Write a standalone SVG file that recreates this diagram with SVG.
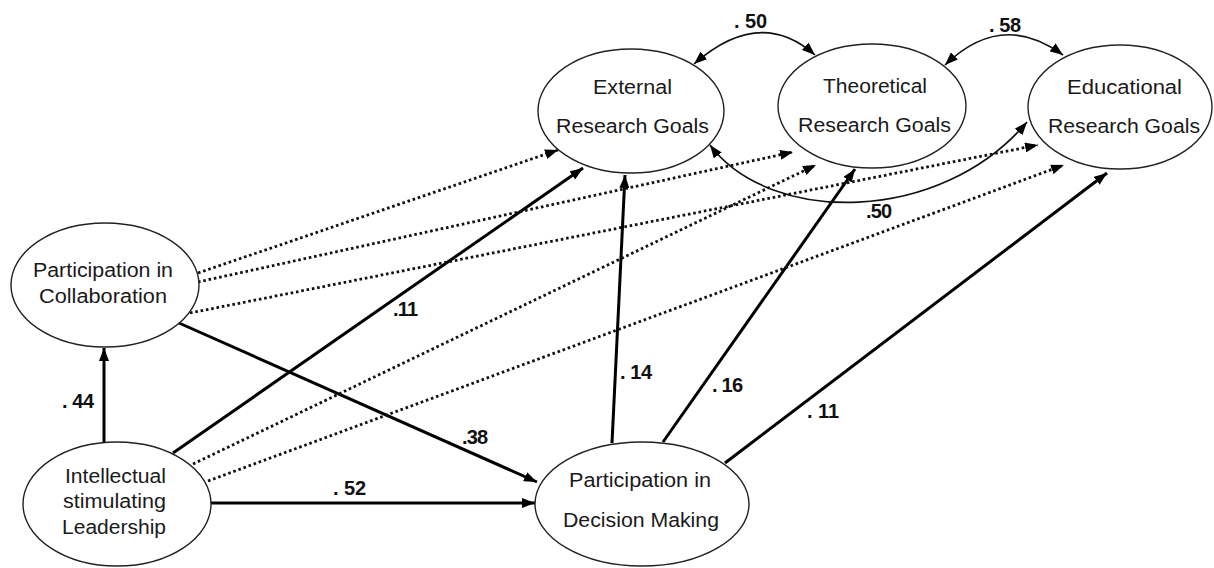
<svg xmlns="http://www.w3.org/2000/svg" width="1214" height="568" viewBox="0 0 1214 568">
<style>
.node ellipse{fill:#fff;stroke:#222;stroke-width:1.4}
.node text{font-family:"Liberation Sans",Arial,sans-serif;font-size:20px;fill:#1a1a1a;text-anchor:start}
.solid{fill:none;stroke:#000;stroke-width:3;marker-end:url(#ah)}
.dot{fill:none;stroke:#111;stroke-width:2.8;stroke-dasharray:2.6 2.8;marker-end:url(#ah)}
.curve{fill:none;stroke:#111;stroke-width:1.6;marker-start:url(#ah2);marker-end:url(#ah2)}
.lbl{font-family:"Liberation Sans Narrow","Liberation Sans",Arial,sans-serif;font-weight:bold;font-size:20px;fill:#111}
</style>
<defs>
<marker id="ah" markerUnits="userSpaceOnUse" markerWidth="14" markerHeight="10" refX="13" refY="5" orient="auto"><path d="M0,0 L13,5 L0,10 z" fill="#000"/></marker>
<marker id="ah2" markerUnits="userSpaceOnUse" markerWidth="14" markerHeight="10" refX="13" refY="5" orient="auto-start-reverse"><path d="M0,0 L13,5 L0,10 z" fill="#000"/></marker>
</defs>
<rect width="1214" height="568" fill="#fff"/>
<g id="connectors">
<path class="solid" d="M104 442 L104 348"/>
<path class="solid" d="M210 503 L535 503"/>
<path class="solid" d="M179 323 L537 482"/>
<path class="solid" d="M173 453 L583 168"/>
<path class="solid" d="M612 443 L625 175"/>
<path class="solid" d="M663 442 L855 169"/>
<path class="solid" d="M725 463 L1107 173"/>
<path class="dot" d="M198 273 L558 150"/>
<path class="dot" d="M198 282 L793 152"/>
<path class="dot" d="M190 313 L1038 145"/>
<path class="dot" d="M193 464 L816 165"/>
<path class="dot" d="M208 481 L1064 165"/>
<path class="curve" d="M694 64 Q760 6 815 55"/>
<path class="curve" d="M945 65 Q1002 10 1063 55"/>
<path class="curve" d="M710 145 C770 225 940 225 1027 122"/>
</g>
<g id="labels">
<text class="lbl" x="734" y="28" textLength="33" lengthAdjust="spacing">. 50</text>
<text class="lbl" x="989" y="32" textLength="32" lengthAdjust="spacing">. 58</text>
<text class="lbl" x="866" y="218" textLength="26" lengthAdjust="spacing">.50</text>
<text class="lbl" x="393" y="316" textLength="25" lengthAdjust="spacing">.11</text>
<text class="lbl" x="462" y="444" textLength="26" lengthAdjust="spacing">.38</text>
<text class="lbl" x="62" y="408" textLength="32" lengthAdjust="spacing">. 44</text>
<text class="lbl" x="333" y="495" textLength="33" lengthAdjust="spacing">. 52</text>
<text class="lbl" x="620" y="379" textLength="32" lengthAdjust="spacing">. 14</text>
<text class="lbl" x="712" y="392" textLength="31" lengthAdjust="spacing">. 16</text>
<text class="lbl" x="807" y="418" textLength="32" lengthAdjust="spacing">. 11</text>
</g>
<g id="external" class="node">
<ellipse cx="631" cy="111" rx="93" ry="62"/>
<text x="593" y="94" textLength="79" lengthAdjust="spacingAndGlyphs">External</text>
<text x="556" y="133" textLength="153" lengthAdjust="spacingAndGlyphs">Research Goals</text>
</g>
<g id="theoretical" class="node">
<ellipse cx="872" cy="106" rx="94" ry="62"/>
<text x="823" y="93" textLength="104" lengthAdjust="spacingAndGlyphs">Theoretical</text>
<text x="798" y="132" textLength="153" lengthAdjust="spacingAndGlyphs">Research Goals</text>
</g>
<g id="educational" class="node">
<ellipse cx="1120" cy="107" rx="92" ry="62"/>
<text x="1067" y="94" textLength="115" lengthAdjust="spacingAndGlyphs">Educational</text>
<text x="1048" y="133" textLength="152" lengthAdjust="spacingAndGlyphs">Research Goals</text>
</g>
<g id="collaboration" class="node">
<ellipse cx="105" cy="285" rx="94" ry="62"/>
<text x="33" y="277" textLength="140" lengthAdjust="spacingAndGlyphs">Participation in</text>
<text x="39" y="303" textLength="128" lengthAdjust="spacingAndGlyphs">Collaboration</text>
</g>
<g id="leadership" class="node">
<ellipse cx="117" cy="504" rx="94" ry="62"/>
<text x="65" y="483" textLength="101" lengthAdjust="spacingAndGlyphs">Intellectual</text>
<text x="63" y="508" textLength="103" lengthAdjust="spacingAndGlyphs">stimulating</text>
<text x="62" y="534" textLength="104" lengthAdjust="spacingAndGlyphs">Leadership</text>
</g>
<g id="decision" class="node">
<ellipse cx="642" cy="504" rx="107" ry="62"/>
<text x="569" y="487" textLength="142" lengthAdjust="spacingAndGlyphs">Participation in</text>
<text x="563" y="527" textLength="156" lengthAdjust="spacingAndGlyphs">Decision Making</text>
</g>
</svg>
